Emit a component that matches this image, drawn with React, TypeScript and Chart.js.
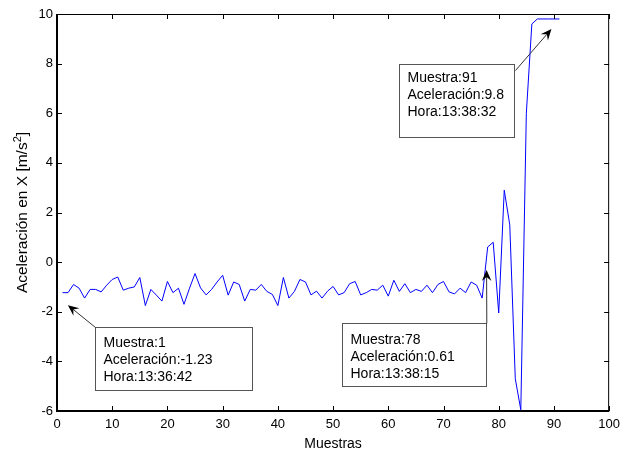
import React, { useEffect, useRef } from "react";
import { Chart, registerables } from "chart.js";

Chart.register(...registerables);

// Aceleración en X por muestra (muestras 1..91)
const accelX = [
  -1.23, -1.23, -0.9, -1.05, -1.45, -1.1, -1.1, -1.2, -0.93, -0.7,
  -0.6, -1.13, -1.05, -1.0, -0.62, -1.75, -1.1, -1.33, -1.57, -0.78,
  -1.23, -1.05, -1.7, -1.05, -0.46, -1.04, -1.32, -1.1, -0.8, -0.53,
  -1.33, -0.8, -0.9, -1.57, -1.1, -1.13, -0.9, -1.18, -1.3, -1.75,
  -0.62, -1.45, -1.18, -0.7, -0.8, -1.32, -1.17, -1.45, -1.17, -0.98,
  -1.32, -1.23, -0.87, -0.78, -1.32, -1.23, -1.1, -1.13, -0.93, -1.37,
  -0.73, -1.18, -0.87, -1.23, -1.1, -1.18, -0.93, -1.23, -0.9, -0.78,
  -1.2, -1.28, -1.05, -1.23, -0.8, -0.93, -1.45, 0.61, 0.8, -2.05,
  2.9, 1.5, -4.7, -5.95, 6.0, 9.6, 9.8, 9.8, 9.8, 9.8, 9.8,
];
const sampleNumbers = accelX.map((_, i) => i + 1);

const xMin = 0;
const xMax = 100;
const xStep = 10;
const yMin = -6;
const yMax = 10;
const yStep = 2;

const xTitle = "Muestras";
const yTitleMain = "Aceleración en X [m/s";
const yTitleSup = "2";
const yTitleEnd = "]";

// Data-tip annotations
const noteSamples = [1, 78, 91];
const noteAccelText = ["-1.23", "0.61", "9.8"];
const noteTimes = ["13:36:42", "13:38:15", "13:38:32"];

// Layout of annotation boxes relative to their data point (pixels)
const noteLayout = [
  { box: [32, 34.8, 157, 63], tip: [5.4, 12.5], tail: [0, 0], textTop: 19.5 },
  { box: [-146, 75.7, 144.3, 63.3], tip: [-1.1, 23], tail: [144.3, 0], textTop: 20.5 },
  { box: [-160, 45, 115, 73.3], tip: [-8, 10], tail: [116, 6], textTop: 17.7 },
];

const FONT = "'Liberation Sans', Arial, Helvetica, sans-serif";

function drawArrow(ctx: CanvasRenderingContext2D, x0: number, y0: number, x1: number, y1: number, lineColor: string) {
  const dx = x1 - x0;
  const dy = y1 - y0;
  const len = Math.hypot(dx, dy) || 1;
  const ux = dx / len;
  const uy = dy / len;
  const nx = -uy;
  const ny = ux;
  const L = 11;
  const W = 4.8;
  const N = 7;
  ctx.strokeStyle = lineColor;
  ctx.lineWidth = 1;
  ctx.beginPath();
  ctx.moveTo(x0, y0);
  ctx.lineTo(x1 - ux * N, y1 - uy * N);
  ctx.stroke();
  ctx.fillStyle = "#000";
  ctx.beginPath();
  ctx.moveTo(x1, y1);
  ctx.lineTo(x1 - ux * L + nx * W, y1 - uy * L + ny * W);
  ctx.lineTo(x1 - ux * N, y1 - uy * N);
  ctx.lineTo(x1 - ux * L - nx * W, y1 - uy * L - ny * W);
  ctx.closePath();
  ctx.fill();
}

const matlabFrame = {
  id: "matlabFrame",
  afterDraw(chart: any) {
    const { ctx, chartArea: a, scales } = chart;
    const xs = scales.x;
    const ys = scales.y;
    ctx.save();

    // inward ticks on all four sides
    ctx.strokeStyle = "#000";
    ctx.lineWidth = 1;
    ctx.beginPath();
    xs.ticks.forEach((t: any) => {
      const px = Math.round(xs.getPixelForValue(t.value)) + 0.5;
      ctx.moveTo(px, a.bottom);
      ctx.lineTo(px, a.bottom - 5);
      ctx.moveTo(px, a.top);
      ctx.lineTo(px, a.top + 5);
    });
    ys.ticks.forEach((t: any) => {
      const py = Math.round(ys.getPixelForValue(t.value)) + 0.5;
      ctx.moveTo(a.left, py);
      ctx.lineTo(a.left + 5, py);
      ctx.moveTo(a.right, py);
      ctx.lineTo(a.right - 5, py);
    });
    ctx.stroke();

    // top / right box lines
    ctx.beginPath();
    ctx.moveTo(a.left, a.top + 0.5);
    ctx.lineTo(a.right, a.top + 0.5);
    ctx.moveTo(a.right - 0.5, a.top);
    ctx.lineTo(a.right - 0.5, a.bottom);
    ctx.stroke();

    // left / bottom axis lines
    ctx.lineWidth = 2;
    ctx.beginPath();
    ctx.moveTo(a.left, a.top);
    ctx.lineTo(a.left, a.bottom);
    ctx.lineTo(a.right, a.bottom);
    ctx.stroke();

    // annotations
    noteSamples.forEach((s, i) => {
      const lay = noteLayout[i];
      const px = xs.getPixelForValue(s);
      const py = ys.getPixelForValue(accelX[s - 1]);
      const bx = Math.round(px + lay.box[0]) + 0.5;
      const by = Math.round(py + lay.box[1]) + 0.5;
      const bw = Math.round(lay.box[2]);
      const bh = Math.round(lay.box[3]);
      ctx.fillStyle = "#fff";
      ctx.fillRect(bx, by, bw, bh);
      ctx.strokeStyle = "#555";
      ctx.lineWidth = 1;
      ctx.strokeRect(bx, by, bw, bh);
      ctx.fillStyle = "#000";
      ctx.font = `14px ${FONT}`;
      ctx.textAlign = "left";
      ctx.textBaseline = "alphabetic";
      const lines = [
        `Muestra:${s}`,
        `Aceleración:${noteAccelText[i]}`,
        `Hora:${noteTimes[i]}`,
      ];
      lines.forEach((ln, k) => {
        ctx.fillText(ln, bx + 8, by + lay.textTop + k * 17);
      });
      drawArrow(ctx, bx + lay.tail[0], by + lay.tail[1], px + lay.tip[0], py + lay.tip[1], "#333");
    });

    // x title
    ctx.fillStyle = "#000";
    ctx.font = `14px ${FONT}`;
    ctx.textAlign = "center";
    ctx.textBaseline = "alphabetic";
    ctx.fillText(xTitle, (a.left + a.right) / 2, 448);

    // y title (rotated, with superscript)
    const cy = (a.top + a.bottom) / 2;
    ctx.translate(26.5, cy);
    ctx.rotate(-Math.PI / 2);
    ctx.textAlign = "left";
    const mainFont = `15.5px ${FONT}`;
    const supFont = `11px ${FONT}`;
    ctx.font = mainFont;
    const w1 = ctx.measureText(yTitleMain).width;
    const w3 = ctx.measureText(yTitleEnd).width;
    ctx.font = supFont;
    const w2 = ctx.measureText(yTitleSup).width;
    const total = w1 + w2 + w3;
    let x = -total / 2;
    ctx.font = mainFont;
    ctx.fillText(yTitleMain, x, 0);
    x += w1;
    ctx.font = supFont;
    ctx.fillText(yTitleSup, x, -6);
    x += w2;
    ctx.font = mainFont;
    ctx.fillText(yTitleEnd, x, 0);

    ctx.restore();
  },
};

export default function App() {
  const ref = useRef<HTMLCanvasElement>(null);

  useEffect(() => {
    document.body.style.margin = "0";
    const canvas = ref.current;
    if (!canvas) return;
    const chart = new Chart(canvas, {
      type: "line",
      data: {
        datasets: [
          {
            data: sampleNumbers.map((n, i) => ({ x: n, y: accelX[i] })),
            borderColor: "#0000ff",
            borderWidth: 1,
            pointRadius: 0,
            tension: 0,
            fill: false,
          },
        ],
      },
      options: {
        animation: false,
        responsive: false,
        events: [],
        layout: { padding: { left: 0, top: 14, right: 14, bottom: 0 } },
        plugins: {
          legend: { display: false },
          tooltip: { enabled: false },
          title: { display: false },
        },
        scales: {
          x: {
            type: "linear",
            min: xMin,
            max: xMax,
            ticks: {
              stepSize: xStep,
              color: "#000",
              padding: 6,
              maxRotation: 0,
              font: { family: FONT, size: 13 },
            },
            grid: { display: false, drawTicks: false },
            border: { display: false },
            afterFit: (s: any) => {
              s.height = 42;
            },
          },
          y: {
            type: "linear",
            min: yMin,
            max: yMax,
            ticks: {
              stepSize: yStep,
              color: "#000",
              padding: 4,
              font: { family: FONT, size: 13 },
            },
            grid: { display: false, drawTicks: false },
            border: { display: false },
            afterFit: (s: any) => {
              s.width = 57;
            },
          },
        },
      },
      plugins: [matlabFrame],
    });
    return () => chart.destroy();
  }, []);

  return (
    <div style={{ position: "fixed", left: 0, top: 0, width: 626, height: 453, background: "#fff" }}>
      <canvas ref={ref} width={626} height={453} style={{ display: "block", width: 626, height: 453 }} />
    </div>
  );
}
